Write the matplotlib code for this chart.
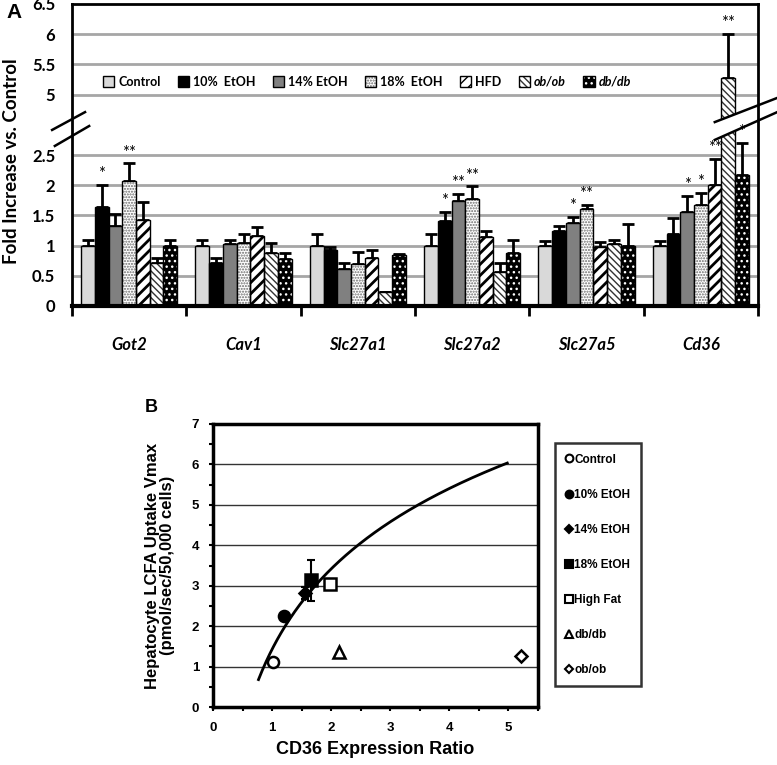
import numpy as np
import matplotlib
matplotlib.use("Agg")
import matplotlib.pyplot as plt
from matplotlib.patches import Patch, Polygon
from matplotlib.lines import Line2D
from matplotlib.ticker import MultipleLocator, FixedLocator

# ---------------- Panel A data ----------------
GENES = ["Got2", "Cav1", "Slc27a1", "Slc27a2", "Slc27a5", "Cd36"]
SERIES = ["Control", "10%  EtOH", "14% EtOH", "18%  EtOH", "HFD", "ob/ob", "db/db"]

control = [1.00, 1.00, 1.00, 1.00, 1.00, 1.00]
etoh10 = [1.64, 0.72, 0.92, 1.40, 1.25, 1.20]
etoh14 = [1.32, 1.02, 0.62, 1.74, 1.37, 1.55]
etoh18 = [2.07, 1.04, 0.70, 1.77, 1.60, 1.68]
hfd = [1.43, 1.16, 0.80, 1.15, 0.98, 2.00]
obob = [0.72, 0.87, 0.24, 0.57, 1.02, 5.28]
dbdb = [1.00, 0.77, 0.85, 0.87, 1.00, 2.17]

control_err = [0.10, 0.10, 0.20, 0.20, 0.08, 0.08]
etoh10_err = [0.36, 0.07, 0.06, 0.16, 0.08, 0.25]
etoh14_err = [0.21, 0.08, 0.10, 0.12, 0.11, 0.27]
etoh18_err = [0.29, 0.16, 0.20, 0.21, 0.08, 0.19]
hfd_err = [0.30, 0.14, 0.13, 0.10, 0.08, 0.43]
obob_err = [0.08, 0.18, 0.00, 0.15, 0.08, 0.72]
dbdb_err = [0.10, 0.10, 0.01, 0.23, 0.35, 0.53]

# (gene index, series index, mark)
STARS = [
    (0, 1, "*"), (0, 3, "**"),
    (3, 1, "*"), (3, 2, "**"), (3, 3, "**"),
    (4, 2, "*"), (4, 3, "**"),
    (5, 2, "*"), (5, 3, "*"), (5, 4, "**"), (5, 5, "**"), (5, 6, "*"),
]

A_TICKS = [0, 0.5, 1, 1.5, 2, 2.5, 5, 5.5, 6, 6.5]

# ---------------- Panel B data ----------------
B_LABELS = ["Control", "10% EtOH", "14% EtOH", "18% EtOH", "High Fat", "db/db", "ob/ob"]
B_X = [1.01, 1.20, 1.56, 1.66, 1.98, 2.13, 5.22]
B_Y = [1.12, 2.26, 2.82, 3.13, 3.05, 1.36, 1.27]
B_ERR = [0.0, 0.0, 0.15, 0.50, 0.12, 0.0, 0.0]
TREND_N = 5            # trendline fitted on the first five groups
TREND_RANGE = (0.77, 4.98)

# ---------------- helpers ----------------
# axis is cut between 2.5 and 5: values above the cut are shifted down by 1.5
SHIFT = 1.5
CUT = 3.25


def squash(v):
    v = np.asarray(v, dtype=float)
    return np.where(v < CUT, v, np.maximum(v - SHIFT, CUT))


FONT_A = "Lato"
FONT_B = "Liberation Sans"

fig = plt.figure(figsize=(7.77, 7.65), dpi=100)

# ======================= Panel A =======================
ax = fig.add_axes([72 / 777, 1 - 306 / 765, 686 / 777, 302 / 765])

values = [control, etoh10, etoh14, etoh18, hfd, obob, dbdb]
errors = [control_err, etoh10_err, etoh14_err, etoh18_err, hfd_err, obob_err, dbdb_err]
styles = [
    dict(face="#d9d9d9", hatch=None, hcol=None, hlw=1.0),
    dict(face="black", hatch=None, hcol=None, hlw=1.0),
    dict(face="#808080", hatch=None, hcol=None, hlw=1.0),
    dict(face="white", hatch="......", hcol="#6a6a6a", hlw=1.0),
    dict(face="white", hatch="///", hcol="black", hlw=2.0),
    dict(face="white", hatch="\\\\\\\\\\", hcol="#333333", hlw=1.0),
    dict(face="black", hatch="...", hcol="white", hlw=1.0),
]

ngenes = len(GENES)
width = 0.12
base = np.arange(ngenes) + 0.5
handles = []
for i, (vals, errs, st) in enumerate(zip(values, errors, styles)):
    xs = base + (i - 3) * width
    top = squash(vals)
    with plt.rc_context({"hatch.linewidth": st["hlw"]}):
        if st["hatch"]:
            ax.bar(xs, top, width, color=st["face"], hatch=st["hatch"],
                   edgecolor=st["hcol"], linewidth=0, zorder=2)
            ax.bar(xs, top, width, fill=False, edgecolor="black", linewidth=1.0, zorder=2.1)
            h_fill = Patch(facecolor=st["face"], hatch=st["hatch"], edgecolor=st["hcol"], linewidth=0)
            h_out = Patch(fill=False, edgecolor="black", linewidth=1.0)
            handles.append((h_fill, h_out))
        else:
            ax.bar(xs, top, width, color=st["face"], edgecolor="black", linewidth=1.0, zorder=2)
            handles.append(Patch(facecolor=st["face"], edgecolor="black", linewidth=1.0))
    upper = np.asarray(vals) + np.asarray(errs)
    yerr = np.vstack([np.zeros(ngenes), np.clip(squash(upper) - top, 0, None)])
    ax.errorbar(xs, top, yerr=yerr, fmt="none", ecolor="black", elinewidth=2,
                capsize=4, capthick=2, zorder=1.9)

for g, s, mark in STARS:
    x = base[g] + (s - 3) * width
    y = squash(values[s][g] + errors[s][g])
    ax.annotate(mark, (x, float(y)), xytext=(0, 2), textcoords="offset points",
                ha="center", va="bottom", fontsize=12, family=FONT_A, zorder=4)

ax.set_xlim(0, ngenes)
ax.set_ylim(0, float(squash(6.5)))
ax.set_yticks(squash(A_TICKS))
ax.set_yticklabels([f"{t:g}" for t in A_TICKS], family=FONT_A, fontweight="bold", fontsize=12)
ax.tick_params(axis="y", length=0, pad=12)
grid_vals = [t for t in A_TICKS if 0 < t < 6.5]
for gv in grid_vals:
    ax.axhline(float(squash(gv)), color="#a6a6a6", lw=2, zorder=0.5)

ax.set_xticks(base)
ax.set_xticklabels(GENES, family=FONT_A, fontstyle="italic", fontweight="bold", fontsize=12)
ax.xaxis.set_minor_locator(FixedLocator(np.arange(ngenes + 1)))
ax.tick_params(axis="x", which="major", length=0, pad=22)
ax.tick_params(axis="x", which="minor", length=7, width=2, direction="out")
for side, lw in [("left", 2), ("bottom", 3), ("top", 2), ("right", 2)]:
    ax.spines[side].set_linewidth(lw)
    ax.spines[side].set_zorder(3)

ax.set_ylabel("Fold Increase vs. Control", family=FONT_A, fontweight="bold", fontsize=13.5)
ax.yaxis.set_label_coords(-0.076, 0.48)

leg = ax.legend(handles, SERIES, loc="center", bbox_to_anchor=(0.43, 0.742), ncol=7,
                frameon=True, framealpha=1, edgecolor="none", fancybox=False,
                prop=dict(family=FONT_A, weight="bold", size=9),
                handlelength=0.9, handleheight=0.9, handletextpad=0.3,
                columnspacing=1.4, borderpad=0.2)
leg.set_zorder(3)
for t in leg.get_texts()[5:]:
    t.set_fontstyle("italic")


# broken-axis marks (white band between two slanted strokes)
def break_mark(p1a, p1b, p2a, p2b):
    poly = Polygon([p1a, p1b, p2b, p2a], closed=True, transform=ax.transAxes,
                   facecolor="white", edgecolor="none", clip_on=False, zorder=2.4)
    ax.add_patch(poly)
    for a, b in [(p1a, p1b), (p2a, p2b)]:
        ax.add_line(Line2D([a[0], b[0]], [a[1], b[1]], transform=ax.transAxes,
                           color="black", lw=1.8, clip_on=False, zorder=3.5))


break_mark((-0.029, 0.583), (0.019, 0.642), (-0.025, 0.530), (0.025, 0.596))
break_mark((0.937, 0.609), (1.028, 0.689), (0.937, 0.550), (1.028, 0.642))

fig.text(6 / 777, 1 - 13 / 765, "A", family=FONT_B, fontweight="bold", fontsize=15,
         ha="left", va="center")

# ======================= Panel B =======================
bx = fig.add_axes([213 / 777, 1 - 707 / 765, 325 / 777, 283 / 765])

markers = [
    dict(marker="o", mfc="white", ms=8),
    dict(marker="o", mfc="black", ms=8),
    dict(marker="D", mfc="black", ms=6),
    dict(marker="s", mfc="black", ms=8),
    dict(marker="s", mfc="white", ms=8),
    dict(marker="^", mfc="white", ms=8),
    dict(marker="D", mfc="white", ms=6),
]
b_handles = []
for x, y, e, m, lab in zip(B_X, B_Y, B_ERR, markers, B_LABELS):
    if e > 0:
        bx.errorbar([x], [y], yerr=[e], fmt="none", ecolor="black", elinewidth=1.5,
                    capsize=3, capthick=1.5, zorder=3)
    bx.plot([x], [y], linestyle="none", marker=m["marker"], mfc=m["mfc"],
            mec="black", mew=1.8, ms=m["ms"], zorder=4)
    b_handles.append(Line2D([], [], linestyle="none", marker=m["marker"], mfc=m["mfc"],
                            mec="black", mew=1.5, ms=m["ms"] * 0.7, label=lab))

# logarithmic trendline fitted to the first groups
coef = np.polyfit(np.log(B_X[:TREND_N]), B_Y[:TREND_N], 1)
tx = np.linspace(TREND_RANGE[0], TREND_RANGE[1], 200)
bx.plot(tx, np.polyval(coef, np.log(tx)), color="black", lw=2, zorder=2)

bx.set_xlim(0, 5.5)
bx.set_ylim(0, 7)
bx.xaxis.set_major_locator(MultipleLocator(1))
bx.xaxis.set_minor_locator(MultipleLocator(0.5))
bx.yaxis.set_major_locator(MultipleLocator(1))
bx.yaxis.set_minor_locator(MultipleLocator(0.5))
bx.set_xticks([0, 1, 2, 3, 4, 5])
bx.tick_params(which="both", direction="out", length=3, width=1.5)
bx.tick_params(axis="x", pad=8)
bx.tick_params(axis="y", pad=7)
for lab in bx.get_xticklabels() + bx.get_yticklabels():
    lab.set_family(FONT_B)
    lab.set_fontweight("bold")
    lab.set_fontsize(9.5)
bx.yaxis.grid(True, which="major", color="#333333", lw=1)
bx.set_axisbelow(True)
for side in ["left", "bottom", "top", "right"]:
    bx.spines[side].set_linewidth(2.5)

bx.set_xlabel("CD36 Expression Ratio", family=FONT_B, fontweight="bold", fontsize=13, labelpad=5)
bx.set_ylabel("Hepatocyte LCFA Uptake Vmax\n(pmol/sec/50,000 cells)", family=FONT_B,
              fontweight="bold", fontsize=12, labelpad=12, linespacing=1.0)

lb = bx.legend(handles=b_handles, loc="upper left", bbox_to_anchor=(555 / 777, 1 - 443 / 765),
               bbox_transform=fig.transFigure, frameon=True, fancybox=False, edgecolor="black",
               prop=dict(family=FONT_B, weight="bold", size=8.5),
               handlelength=0.6, handletextpad=0.15, labelspacing=1.95,
               borderpad=0.9, borderaxespad=0)
lb.get_frame().set_linewidth(1.8)

fig.text(145 / 777, 1 - 408 / 765, "B", family=FONT_B, fontweight="bold", fontsize=13,
         ha="left", va="center")

fig.savefig("out.png", dpi=100)
